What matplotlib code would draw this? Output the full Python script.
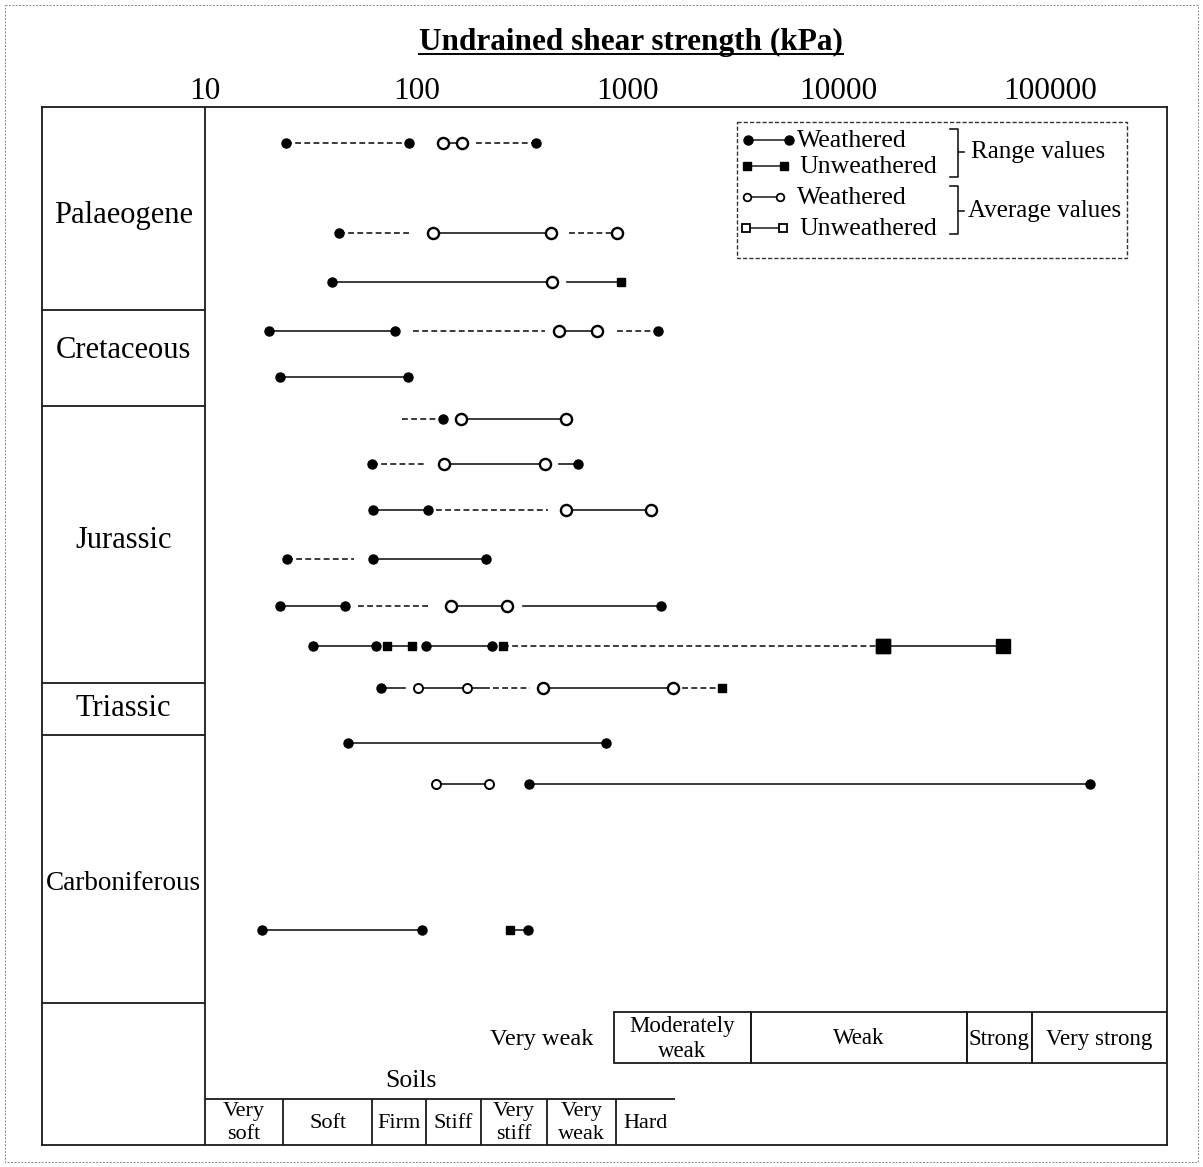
import numpy as np
import matplotlib
matplotlib.use('Agg')
import matplotlib.pyplot as plt
from matplotlib.patches import Rectangle

plt.rcParams['font.family'] = ['Liberation Serif', 'DejaVu Serif']

W, H = 1203, 1167

# top axis (kPa)
ticks = [10, 100, 1000, 10000, 100000]
tick_labels = ['10', '100', '1000', '10000', '100000']

periods = ['Palaeogene', 'Cretaceous', 'Jurassic', 'Triassic', 'Carboniferous']

# one entry per drawn segment
# marks: WR weathered range, UR unweathered range, URb (drawn bigger), WA weathered average, WAs (small), '' none
seg_row = [0, 0, 0,
           1, 1, 1,
           2, 2,
           3, 3, 3, 3,
           4,
           5, 5,
           6, 6, 6,
           7, 7, 7,
           8, 8,
           9, 9, 9, 9,
           10, 10, 10, 10, 10,
           11, 11, 11, 11, 11, 11,
           12,
           13, 13,
           14, 14]
seg_lo = [24.2, 134, 192,
          43.1, 120, 528,
          39.9, 517,
          20.1, 96.5, 474, 892,
          22.6,
          85.6, 163,
          61.7, 135, 474,
          62.4, 124, 512,
          24.4, 62.4,
          22.6, 53.0, 146, 320,
          32.5, 72.7, 111, 258, 16200,
          68.1, 102, 174, 231, 398, 1641,
          47.5,
          124, 342,
          18.6, 278]
seg_hi = [92.4, 165, 369,
          94.4, 434, 892,
          439, 932,
          79.3, 407, 717, 1394,
          91.4,
          134, 512,
          111, 407, 583,
          114, 420, 1292,
          50.8, 214,
          46.0, 114, 269, 1441,
          64.5, 95.5, 228, 16200, 59900,
          88.5, 174, 221, 345, 1641, 2800,
          791,
          221, 154700,
          106, 338]
seg_lo_mark = ['WR', 'WA', '',
               'WR', 'WA', '',
               'WR', '',
               'WR', '', 'WA', '',
               'WR',
               '', 'WA',
               'WR', 'WA', '',
               'WR', '', 'WA',
               'WR', 'WR',
               'WR', '', 'WA', '',
               'WR', 'UR', 'WR', 'UR', 'URb',
               'WR', 'WAs', '', '', 'WA', '',
               'WR',
               'WAs', 'WR',
               'WR', 'UR']
seg_hi_mark = ['WR', 'WA', 'WR',
               '', 'WA', 'WA',
               'WA', 'UR',
               'WR', '', 'WA', 'WR',
               'WR',
               'WR', 'WA',
               '', 'WA', 'WR',
               'WR', '', 'WA',
               '', 'WR',
               'WR', '', 'WA', 'WR',
               'WR', 'UR', 'WR', 'URb', 'URb',
               '', 'WAs', '', '', 'WA', 'UR',
               'WR',
               'WAs', 'WR',
               'WR', 'WR']
seg_link = ['dashed', 'solid', 'dashed',
            'dashed', 'solid', 'dashed',
            'solid', 'solid',
            'solid', 'dashed', 'solid', 'dashed',
            'solid',
            'dashed', 'solid',
            'dashed', 'solid', 'solid',
            'solid', 'dashed', 'solid',
            'dashed', 'solid',
            'solid', 'dashed', 'solid', 'solid',
            'solid', 'solid', 'solid', 'dashed', 'solid',
            'solid', 'solid', 'solid', 'dashed', 'solid', 'dashed',
            'solid',
            'solid', 'solid',
            'solid', 'solid']

# strength classes along the bottom (kPa boundaries)
soil_classes = ['Very\nsoft', 'Soft', 'Firm', 'Stiff', 'Very\nstiff', 'Very\nweak', 'Hard']
soil_edges = [10, 23.4, 62, 111, 203, 416, 883, 1680]
rock_classes = ['Very weak', 'Moderately\nweak', 'Weak', 'Strong', 'Very strong']
rock_edges = [180, 860, 3850, 40400, 82000, 358000]
rock_boxed = [False, True, True, True, True]

# ---- layout (pixel rows of the original sheet) ----
row_y = [143, 233, 282, 331, 377, 419, 464, 510, 559, 606, 646, 688, 743, 784, 930]
period_lines = [310, 406, 683, 735, 1003]
period_label_y = [215, 351, 540, 709, 884]
period_size = [22, 22, 22, 22, 19.5]

fig = plt.figure(figsize=(W / 100, H / 100), dpi=100)
ax = fig.add_axes([42 / W, 1 - 1145 / H, 1125 / W, 1038 / H])
ax.set_xscale('log')
x_left = 10 ** (1 - 163 / 211.25)
x_right = 10 ** (1 + 962 / 211.25)
ax.set_xlim(x_left, x_right)
ax.set_ylim(1145, 107)

for sp in ax.spines.values():
    sp.set_linewidth(1.3)
    sp.set_color('#1a1a1a')

ax.xaxis.tick_top()
ax.set_xticks(ticks)
ax.set_xticklabels(tick_labels, fontsize=22.5)
ax.minorticks_off()
ax.tick_params(axis='x', length=0, pad=1)
ax.set_yticks([])

lc = '#1a1a1a'
mstyle = {
    'WR': dict(marker='o', ms=6.5, mfc='k', mec='k'),
    'UR': dict(marker='s', ms=6, mfc='k', mec='k'),
    'URb': dict(marker='s', ms=9.5, mfc='k', mec='k'),
    'WA': dict(marker='o', ms=8, mfc='white', mec='k', mew=1.7),
    'WAs': dict(marker='o', ms=6.5, mfc='white', mec='k', mew=1.4),
}

for r, lo, hi, m0, m1, link in zip(seg_row, seg_lo, seg_hi, seg_lo_mark, seg_hi_mark, seg_link):
    y = row_y[r]
    ls = '-' if link == 'solid' else (0, (3.5, 2))
    ax.plot([lo, hi], [y, y], color=lc, lw=1.2, ls=ls, zorder=2)
    for v, m in ((lo, m0), (hi, m1)):
        if m:
            ax.plot([v], [y], ls='none', zorder=3, **mstyle[m])

# period column
ax.axvline(10, color=lc, lw=1.3)
ax.hlines(period_lines, x_left, 10, color=lc, lw=1.3)
for name, y, s in zip(periods, period_label_y, period_size):
    ax.text(np.sqrt(x_left * 10), y, name, ha='center', va='center', fontsize=s)

# rock strength table
for name, lo, hi, boxed in zip(rock_classes, rock_edges[:-1], rock_edges[1:], rock_boxed):
    if boxed:
        ax.add_patch(Rectangle((lo, 1012), hi - lo, 51, fill=False, ec=lc, lw=1.3))
    ax.text(np.sqrt(lo * hi), 1039, name, ha='center', va='center',
            fontsize=16.5 if boxed else 17.5, linespacing=1.2)

# soil table
ax.hlines(1099, soil_edges[0], soil_edges[-1], color=lc, lw=1.3)
ax.vlines(soil_edges[1:-1], 1099, 1145, color=lc, lw=1.3)
for name, lo, hi in zip(soil_classes, soil_edges[:-1], soil_edges[1:]):
    ax.text(np.sqrt(lo * hi), 1123, name, ha='center', va='center',
            fontsize=16, linespacing=1.3)
ax.text(np.sqrt(soil_edges[0] * soil_edges[-2]), 1081, 'Soils', ha='center',
        va='center', fontsize=18.5)

# ---- overlay in sheet pixels: legend, title, border ----
ov = fig.add_axes([0, 0, 1, 1], zorder=5)
ov.set_xlim(0, W)
ov.set_ylim(H, 0)
ov.axis('off')
ov.patch.set_alpha(0)

ov.add_patch(Rectangle((5, 5), W - 10, H - 10, fill=False, ec='#888888',
                       lw=0.7, ls=(0, (2, 1.5))))

ov.add_patch(Rectangle((737, 122), 390, 136, fill=False, ec='#333333',
                       lw=1.0, ls=(0, (3, 1.5))))
leg_rows = [(140, 'WR', 748, 789, 'Weathered', 797),
            (166, 'UR', 747, 784, 'Unweathered', 799),
            (197, 'WAs', 747, 780, 'Weathered', 797),
            (228, 'UA', 746, 783, 'Unweathered', 799)]
for y, m, xa, xb, label, xt in leg_rows:
    ov.plot([xa, xb], [y, y], color=lc, lw=1.1)
    if m == 'UA':
        st = dict(marker='s', ms=6, mfc='white', mec='k', mew=1.3)
    elif m == 'WAs':
        st = dict(marker='o', ms=5.5, mfc='white', mec='k', mew=1.3)
    else:
        st = mstyle[m]
    ov.plot([xa, xb], [y, y], ls='none', **st)
    ov.text(xt, y + 1, label, ha='left', va='center', fontsize=18.5)

for top, bot, mid, label, xt in ((129, 177, 152, 'Range values', 971),
                                 (186, 234, 211, 'Average values', 968)):
    ov.plot([950, 958, 958, 950], [top, top, bot, bot], color=lc, lw=1.2)
    ov.plot([958, 964], [mid, mid], color=lc, lw=1.2)
    ov.text(xt, mid, label, ha='left', va='center', fontsize=18)

title = ov.text(631, 50, 'Undrained shear strength (kPa)', ha='center',
                va='baseline', fontsize=22.5, fontweight='bold')
fig.canvas.draw()
bb = title.get_window_extent()
ov.plot([bb.x0 * W / fig.bbox.width, bb.x1 * W / fig.bbox.width], [54, 54],
        color='k', lw=1.4)

fig.savefig('out.png', dpi=100)
